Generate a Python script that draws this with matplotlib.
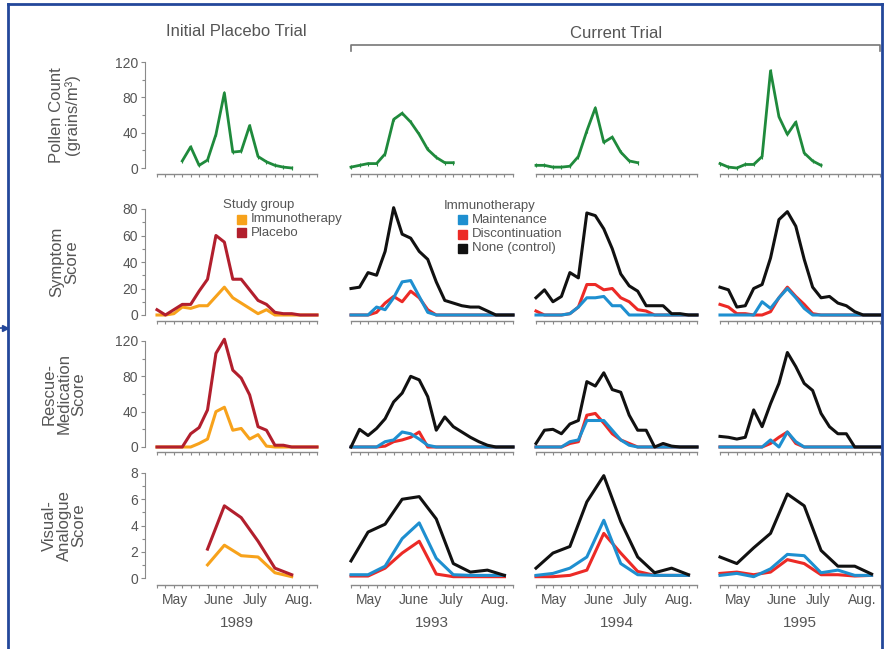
import numpy as np
import matplotlib
matplotlib.use("Agg")
import matplotlib.pyplot as plt
import matplotlib.transforms as mtransforms
from matplotlib.lines import Line2D
from matplotlib.patches import Rectangle

plt.rcParams['font.family'] = ['Liberation Sans', 'DejaVu Sans']

# ---- data (x = week of season, 0 = start of May) ----
years = ['1989', '1993', '1994', '1995']
months = ['May', 'June', 'July', 'Aug.']
month_pos = [2.15, 7.4, 11.7, 16.9]
weeks = np.arange(20)

pollen_wk_1989 = np.arange(3, 17)
pollen_wk = np.arange(13)
pollen_1989 = [8, 24, 3, 9, 38, 85, 18, 19, 48, 13, 7, 3, 1, 0]
pollen_1993 = [1, 3, 5, 5, 16, 55, 62, 52, 38, 21, 12, 6, 6]
pollen_1994 = [3, 3, 1, 1, 2, 13, 42, 68, 29, 35, 18, 8, 6]
pollen_1995 = [5, 1, 0, 4, 4, 13, 110, 58, 38, 52, 17, 8, 3]

symptom_1989_placebo = [4, 0, 4, 8, 8, 18, 27, 60, 55, 27, 27, 19, 11, 8, 2, 1, 1, 0, 0, 0]
symptom_1989_immuno = [0, 0, 1, 6, 5, 7, 7, 14, 21, 13, 9, 5, 1, 4, 0, 0, 0, 0, 0, 0]
symptom_1993_none = [20, 21, 32, 30, 48, 81, 61, 58, 48, 42, 25, 11, 9, 7, 6, 6, 3, 0, 0, 0]
symptom_1993_maint = [0, 0, 0, 6, 4, 13, 25, 26, 14, 2, 0, 0, 0, 0, 0, 0, 0, 0, 0, 0]
symptom_1993_disc = [0, 0, 0, 2, 9, 14, 10, 18, 13, 4, 0, 0, 0, 0, 0, 0, 0, 0, 0, 0]
symptom_1994_none = [13, 19, 10, 14, 32, 28, 77, 75, 65, 50, 31, 22, 18, 7, 7, 7, 1, 1, 0, 0]
symptom_1994_maint = [0, 0, 0, 0, 1, 6, 13, 13, 14, 7, 7, 0, 0, 0, 0, 0, 0, 0, 0, 0]
symptom_1994_disc = [3, 0, 0, 0, 1, 6, 23, 23, 19, 20, 13, 10, 4, 3, 0, 0, 0, 0, 0, 0]
symptom_1995_none = [21, 19, 6, 7, 20, 23, 43, 72, 78, 67, 42, 21, 13, 14, 9, 7, 2.5, 0, 0, 0]
symptom_1995_maint = [0, 0, 0, 0, 0, 10, 5, 13, 20, 13, 5, 0, 0, 0, 0, 0, 0, 0, 0, 0]
symptom_1995_disc = [8, 6, 1, 1, 0, 0, 2.5, 13, 21, 14, 8, 1, 0, 0, 0, 0, 0, 0, 0, 0]

rescue_1989_placebo = [0, 0, 0, 0, 15, 22, 42, 106, 122, 87, 78, 59, 23, 19, 2, 2, 0, 0, 0, 0]
rescue_1989_immuno = [0, 0, 0, 0, 0, 4, 9, 40, 45, 19, 21, 9, 14, 1, 0, 0, 0, 0, 0, 0]
rescue_1993_none = [0, 20, 13, 21, 32, 51, 61, 80, 76, 57, 19, 34, 23, 17, 11, 6, 2, 0, 0, 0]
rescue_1993_maint = [0, 0, 0, 0, 6, 8, 17, 15, 9, 2, 0, 0, 0, 0, 0, 0, 0, 0, 0, 0]
rescue_1993_disc = [0, 0, 0, 0, 1, 6, 8, 11, 17, 0, 0, 0, 0, 0, 0, 0, 0, 0, 0, 0]
rescue_1994_none = [4, 19, 20, 15, 26, 30, 74, 69, 84, 65, 62, 36, 19, 19, 0, 4, 1, 0, 0, 0]
rescue_1994_maint = [0, 0, 0, 0, 6, 8, 30, 30, 30, 19, 8, 2, 0, 0, 0, 0, 0, 0, 0, 0]
rescue_1994_disc = [0, 0, 0, 0, 4, 6, 36, 38, 27, 15, 8, 4, 0, 0, 0, 0, 0, 0, 0, 0]
rescue_1995_none = [12, 11, 9, 11, 42, 23, 49, 72, 107, 91, 72, 64, 38, 23, 15, 15, 0, 0, 0, 0]
rescue_1995_maint = [0, 0, 0, 0, 0, 0, 8, 0, 17, 6, 0, 0, 0, 0, 0, 0, 0, 0, 0, 0]
rescue_1995_disc = [0, 0, 0, 0, 0, 0, 4, 11, 17, 4, 0, 0, 0, 0, 0, 0, 0, 0, 0, 0]

vas_wk_1989 = np.arange(6, 17, 2)
vas_wk = np.arange(0, 19, 2)
vas_1989_placebo = [2.2, 5.5, 4.6, 2.8, 0.75, 0.25]
vas_1989_immuno = [1.0, 2.5, 1.7, 1.6, 0.4, 0.1]
vas_1993_none = [1.3, 3.5, 4.1, 6.0, 6.2, 4.5, 1.1, 0.45, 0.6, 0.2]
vas_1993_maint = [0.25, 0.25, 0.9, 3.0, 4.2, 1.5, 0.25, 0.2, 0.2, 0.2]
vas_1993_disc = [0.15, 0.15, 0.75, 1.9, 2.8, 0.3, 0.1, 0.1, 0.1, 0.1]
vas_1994_none = [0.75, 1.9, 2.4, 5.8, 7.8, 4.3, 1.6, 0.4, 0.75, 0.25]
vas_1994_maint = [0.2, 0.35, 0.75, 1.6, 4.4, 1.1, 0.25, 0.2, 0.2, 0.2]
vas_1994_disc = [0.1, 0.1, 0.2, 0.6, 3.4, 1.9, 0.5, 0.2, 0.2, 0.2]
vas_1995_none = [1.6, 1.1, 2.3, 3.4, 6.4, 5.5, 2.1, 0.9, 0.9, 0.3]
vas_1995_maint = [0.2, 0.35, 0.1, 0.7, 1.8, 1.7, 0.4, 0.6, 0.2, 0.2]
vas_1995_disc = [0.35, 0.45, 0.25, 0.45, 1.4, 1.1, 0.25, 0.25, 0.15, 0.2]

# colours
GREEN = '#1f8a3c'
ORANGE = '#f7a21b'
DARKRED = '#b21f2d'
BLUE = '#1e8fd0'
RED = '#ec2a26'
BLACK = '#111111'
TXT = '#555555'
AX = '#8a8a8a'
FRAME = '#23479a'

W, H = 885, 649
fig = plt.figure(figsize=(W / 100, H / 100), dpi=100)

cols = [(157, 317), (351, 513), (536, 697), (720, 880)]
# (pixel of top value, pixel of zero, pixel of x spine, top value, major step, label)
rows = [
    (62, 168, 174, 120, 40, 'Pollen Count\n(grains/m³)'),
    (209, 315, 321, 80, 20, 'Symptom\nScore'),
    (341, 447, 452, 120, 40, 'Rescue-\nMedication\nScore'),
    (473, 578, 585, 8, 2, 'Visual-\nAnalogue\nScore'),
]

series = {
    0: [[(pollen_wk_1989, pollen_1989, GREEN)],
        [(pollen_wk, pollen_1993, GREEN)],
        [(pollen_wk, pollen_1994, GREEN)],
        [(pollen_wk, pollen_1995, GREEN)]],
    1: [[(weeks, symptom_1989_immuno, ORANGE), (weeks, symptom_1989_placebo, DARKRED)],
        [(weeks, symptom_1993_disc, RED), (weeks, symptom_1993_maint, BLUE), (weeks, symptom_1993_none, BLACK)],
        [(weeks, symptom_1994_disc, RED), (weeks, symptom_1994_maint, BLUE), (weeks, symptom_1994_none, BLACK)],
        [(weeks, symptom_1995_disc, RED), (weeks, symptom_1995_maint, BLUE), (weeks, symptom_1995_none, BLACK)]],
    2: [[(weeks, rescue_1989_immuno, ORANGE), (weeks, rescue_1989_placebo, DARKRED)],
        [(weeks, rescue_1993_disc, RED), (weeks, rescue_1993_maint, BLUE), (weeks, rescue_1993_none, BLACK)],
        [(weeks, rescue_1994_disc, RED), (weeks, rescue_1994_maint, BLUE), (weeks, rescue_1994_none, BLACK)],
        [(weeks, rescue_1995_disc, RED), (weeks, rescue_1995_maint, BLUE), (weeks, rescue_1995_none, BLACK)]],
    3: [[(vas_wk_1989, vas_1989_immuno, ORANGE), (vas_wk_1989, vas_1989_placebo, DARKRED)],
        [(vas_wk, vas_1993_disc, RED), (vas_wk, vas_1993_maint, BLUE), (vas_wk, vas_1993_none, BLACK)],
        [(vas_wk, vas_1994_disc, RED), (vas_wk, vas_1994_maint, BLUE), (vas_wk, vas_1994_none, BLACK)],
        [(vas_wk, vas_1995_disc, RED), (vas_wk, vas_1995_maint, BLUE), (vas_wk, vas_1995_none, BLACK)]],
}

for r, (ytop, yzero, yspine, top, step, label) in enumerate(rows):
    lo = -(yspine - yzero) / (yzero - ytop) * top
    for c, (x0, x1) in enumerate(cols):
        ax = fig.add_axes([x0 / W, 1 - yspine / H, (x1 - x0) / W, (yspine - ytop) / H])
        ax.set_xlim(0, 19)
        ax.set_ylim(lo, top)
        ax.patch.set_alpha(0)
        for s in ['top', 'right']:
            ax.spines[s].set_visible(False)
        ax.spines['bottom'].set_color(AX)
        ax.spines['bottom'].set_linewidth(1.0)
        ax.set_xticks(weeks)
        ax.set_xticklabels([])
        ax.tick_params(axis='x', length=2.5, width=0.8, color=AX, direction='out')
        if c == 0:
            ax.spines['left'].set_position(('outward', 12 * 0.72))
            ax.spines['left'].set_bounds(0, top)
            ax.spines['left'].set_color(AX)
            ax.set_yticks(np.arange(0, top + 0.01, step))
            ax.set_yticks(np.arange(step / 2, top, step), minor=True)
            ax.tick_params(axis='y', which='major', length=3, width=0.8, color=AX,
                           labelsize=10, labelcolor=TXT, pad=2)
            ax.tick_params(axis='y', which='minor', length=2, width=0.8, color=AX)
            ax.text(-0.58, top / 2, label, transform=ax.get_yaxis_transform(),
                    rotation=90, ha='center', va='center', fontsize=12, color=TXT,
                    linespacing=1.0)
        else:
            ax.spines['left'].set_visible(False)
            ax.set_yticks([])

        for xs, ys, col in series[r][c]:
            if r == 0:
                ax.plot(xs, ys, color=col, lw=2.0, clip_on=False, solid_joinstyle='round',
                        marker='|', markersize=3, markeredgewidth=0.8)
            else:
                ax.plot(xs, ys, color=col, lw=2.2, clip_on=False, solid_joinstyle='round')

        if r == 3:
            tr = mtransforms.blended_transform_factory(ax.transData, fig.transFigure)
            for m, p in zip(months, month_pos):
                ax.text(p, 1 - 600 / H, m, transform=tr, ha='center', va='center',
                        fontsize=10, color=TXT)
            ax.text(9.5, 1 - 623 / H, years[c], transform=tr, ha='center', va='center',
                    fontsize=11, color=TXT)

# titles and bracket
fig.text(236 / W, 1 - 32 / H, 'Initial Placebo Trial', ha='center', va='center',
         fontsize=12, color=TXT)
fig.text(616 / W, 1 - 33 / H, 'Current Trial', ha='center', va='center',
         fontsize=12, color=TXT)
bx = [351 / W, 351 / W, 880 / W, 880 / W]
by = [1 - 51 / H, 1 - 45 / H, 1 - 45 / H, 1 - 51 / H]
fig.add_artist(Line2D(bx, by, color='#777777', lw=1.2))

# legends
def legend_block(x, y, header, items):
    fig.text(x / W, 1 - y / H, header, ha='left', va='center', fontsize=9.5, color=TXT)
    for i, (name, col) in enumerate(items):
        yy = y + 14 * (i + 1)
        fig.add_artist(Rectangle(((x + 14) / W, 1 - (yy + 4.5) / H), 9 / W, 9 / H,
                                 transform=fig.transFigure, color=col))
        fig.text((x + 28) / W, 1 - yy / H, name, ha='left', va='center',
                 fontsize=9.5, color=TXT)

legend_block(223, 205, 'Study group', [('Immunotherapy', ORANGE), ('Placebo', DARKRED)])
legend_block(444, 206, 'Immunotherapy', [('Maintenance', BLUE), ('Discontinuation', RED),
                                          ('None (control)', BLACK)])

# blue frame
fig.add_artist(Line2D([8 / W, 8 / W], [0, 1 - 4 / H], color=FRAME, lw=2))
fig.add_artist(Line2D([8 / W, 882 / W], [1 - 4 / H, 1 - 4 / H], color=FRAME, lw=2))
fig.add_artist(Line2D([882 / W, 882 / W], [0, 1 - 4 / H], color=FRAME, lw=2))
fig.add_artist(Line2D([0, 5 / W], [1 - 328 / H, 1 - 328 / H], color=FRAME, lw=1.2,
                      marker='>', markevery=[1], markersize=4))

fig.savefig('out.png', dpi=100)
